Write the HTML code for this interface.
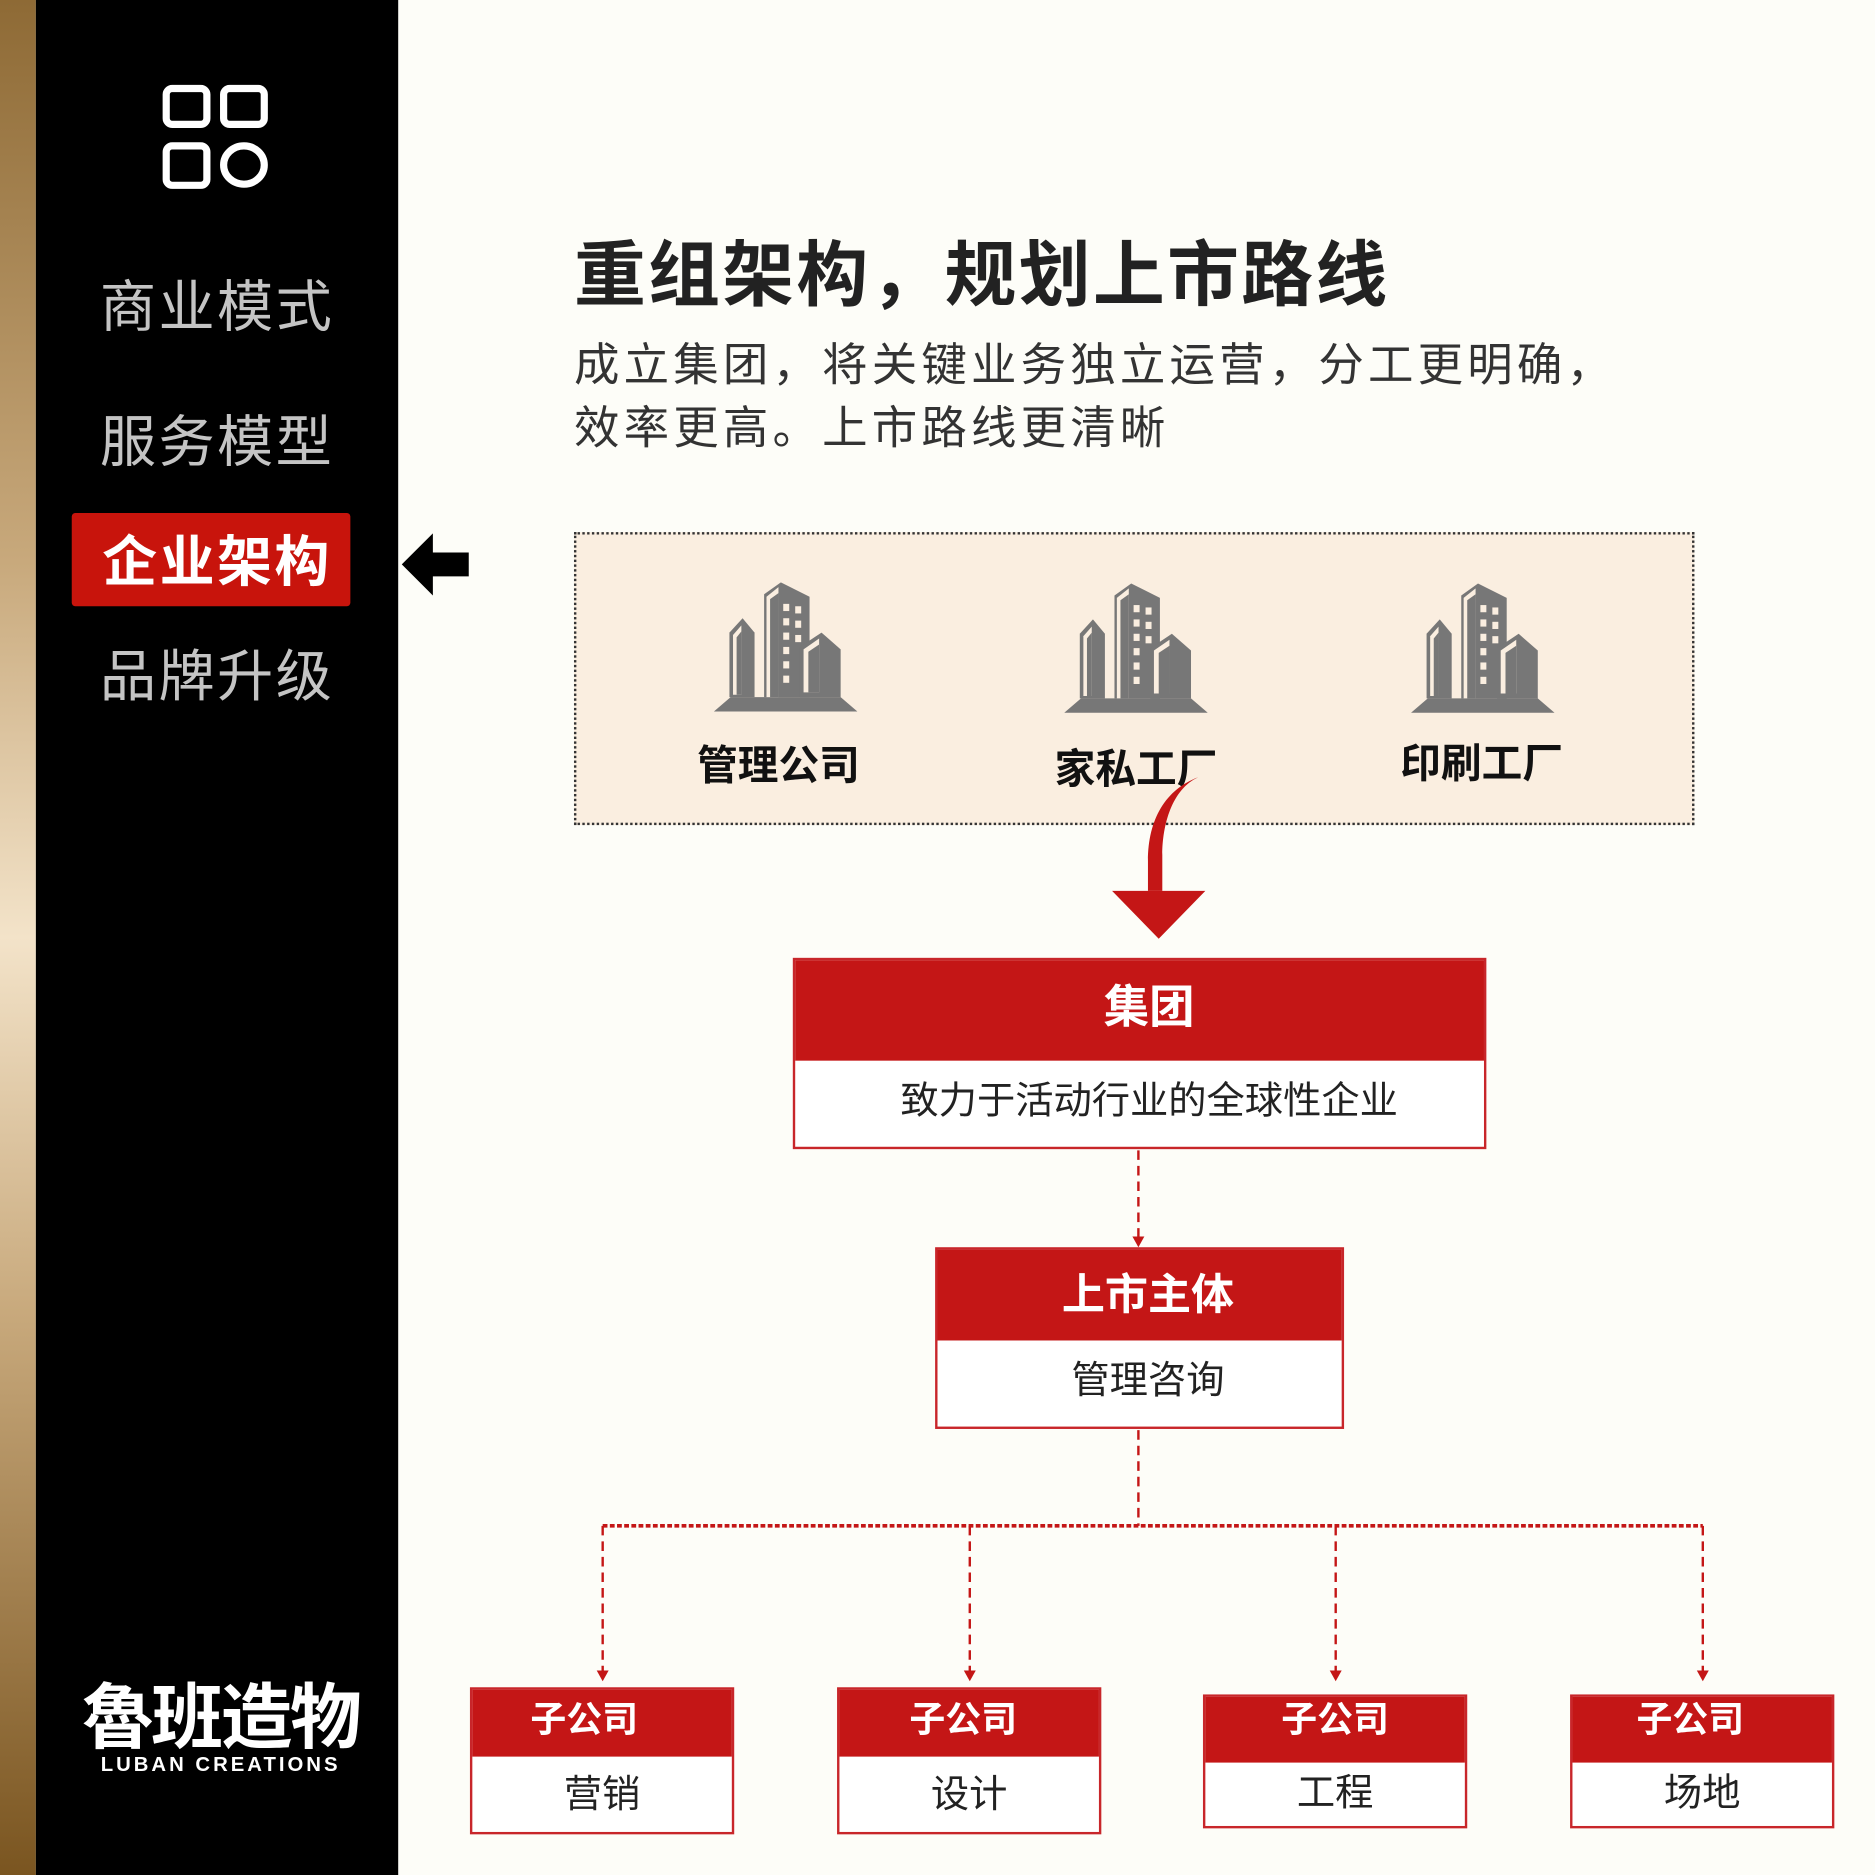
<!DOCTYPE html>
<html><head><meta charset="utf-8"><style>
html,body{margin:0;padding:0;}
body{width:1875px;height:1875px;overflow:hidden;background:#fdfdf8;}
#w{position:absolute;left:0;top:0;width:1568px;height:1568px;transform:scale(1.19579);transform-origin:0 0;font-family:"Liberation Sans","Noto Sans CJK SC",sans-serif;}
.a{position:absolute;}
.menu{position:absolute;left:30px;width:303px;text-align:center;color:#c4c4c4;font-size:47px;letter-spacing:2px;}
.box{position:absolute;border:2px solid #c8262a;background:#fff;box-sizing:border-box;}
.hd{background:#c41616;color:#fff;font-weight:bold;text-align:center;}
.bd{text-align:center;color:#222;}
.bl{text-align:center;font-weight:bold;font-size:34px;color:#111;position:absolute;width:200px;}
</style></head><body><div id="w">
<div class="a" style="left:0;top:0;width:30px;height:1568px;background:linear-gradient(#8e6a35 0%,#c8a97c 30%,#f3e3c9 50%,#c8a97c 70%,#7a5520 100%);"></div>
<div class="a" style="left:30px;top:0;width:303px;height:1568px;background:#000;"></div>
<svg class="a" style="left:130px;top:65px" width="100" height="100" viewBox="0 0 100 100">
<g fill="none" stroke="#fff" stroke-width="6">
<rect x="9" y="9" width="34" height="30" rx="5"/><rect x="57" y="9" width="34" height="30" rx="5"/>
<rect x="9" y="57" width="34" height="33" rx="5"/><ellipse cx="74" cy="73" rx="17" ry="16"/></g></svg>
<div class="menu" style="top:218px;">商业模式</div>
<div class="menu" style="top:331px;">服务模型</div>
<div class="a" style="left:60px;top:429px;width:233px;height:78px;background:#c8140c;border-radius:3px;"></div>
<div class="menu" style="top:434px;color:#fff;font-weight:bold;font-size:46px;">企业架构</div>
<div class="menu" style="top:527px;">品牌升级</div>
<svg class="a" style="left:334px;top:444px" width="60" height="56"><polygon points="2,28 28,2 28,18 58,18 58,38 28,38 28,54" fill="#000"/></svg>
<div class="a" style="left:62px;top:1402px;width:245px;text-align:center;color:#fff;font-weight:bold;font-size:60px;letter-spacing:-2px;line-height:70px;">魯班造物</div>
<div class="a" style="left:62px;top:1466px;width:245px;text-align:center;color:#fff;font-weight:bold;font-size:17px;letter-spacing:2.5px;">LUBAN CREATIONS</div>

<div class="a" style="left:480px;top:182px;font-size:60px;font-weight:bold;color:#222;letter-spacing:2px;">重组架构，规划上市路线</div>
<div class="a" style="left:480px;top:280px;font-size:38px;color:#333;line-height:53px;letter-spacing:3.5px;">成立集团，将关键业务独立运营，分工更明确，<br>效率更高。上市路线更清晰</div>

<div class="a" style="left:480px;top:445px;width:937px;height:245px;background:#faeee0;border:2px dotted #333;box-sizing:border-box;"></div>
<svg width="0" height="0" style="position:absolute"><defs><g id="bld">
<polygon points="0,108 120,108 106,96 14,96" fill="#777"/>
<polygon points="42,10 56,0 80,12 80,96 42,96" fill="#777"/>
<polygon points="44,12 54,4 54,96 44,96" fill="#faeee0"/><polygon points="47,14 54,9 54,96 47,96" fill="#777"/>
<g fill="#faeee0"><rect x="58" y="18" width="5" height="6"/><rect x="68" y="20" width="5" height="6"/><rect x="58" y="30" width="5" height="6"/><rect x="68" y="32" width="5" height="6"/><rect x="58" y="42" width="5" height="6"/><rect x="68" y="44" width="5" height="6"/><rect x="58" y="54" width="5" height="6"/><rect x="58" y="66" width="5" height="6"/><rect x="58" y="78" width="5" height="6"/></g>
<polygon points="13,42 24,30 34,42 34,96 13,96" fill="#777"/><polygon points="16,44 23,36 23,94 16,94" fill="#faeee0"/><polygon points="19,46 23,41 23,94 19,94" fill="#777"/>
<polygon points="72,54 90,42 106,56 106,96 72,96" fill="#777"/><polygon points="75,56 88,47 88,92 75,92" fill="#faeee0"/><polygon points="79,58 88,52 88,92 79,92" fill="#777"/>
</g></defs></svg>
<svg class="a" style="left:597px;top:487px" width="120" height="110"><use href="#bld"/></svg>
<svg class="a" style="left:890px;top:488px" width="120" height="110"><use href="#bld"/></svg>
<svg class="a" style="left:1180px;top:488px" width="120" height="110"><use href="#bld"/></svg>
<div class="bl" style="left:551px;top:613px;">管理公司</div>
<div class="bl" style="left:850px;top:616px;">家私工厂</div>
<div class="bl" style="left:1139px;top:611px;">印刷工厂</div>
<svg class="a" style="left:920px;top:645px" width="100" height="145">
<path d="M82,5 C60,15 52,45 52,70 L52,100 L40,100 L40,75 C40,40 55,15 82,5 Z" fill="#c41616"/>
<polygon points="10,100 88,100 49,140" fill="#c41616"/></svg>

<div class="box" style="left:663px;top:801px;width:580px;height:160px;">
<div class="hd" style="height:84px;line-height:80px;font-size:38px;padding-left:16px;">集团</div>
<div class="bd" style="font-size:32px;line-height:66px;padding-left:16px;">致力于活动行业的全球性企业</div></div>
<div class="box" style="left:782px;top:1043px;width:342px;height:152px;">
<div class="hd" style="height:76px;line-height:76px;font-size:36px;padding-left:14px;">上市主体</div>
<div class="bd" style="font-size:32px;line-height:66px;padding-left:14px;">管理咨询</div></div>

<svg class="a" style="left:0;top:0" width="1568" height="1568">
<g stroke="#c41616" stroke-width="2" fill="none" stroke-dasharray="8,5">
<line x1="952" y1="962" x2="952" y2="1036"/>
<line x1="952" y1="1196" x2="952" y2="1276"/>
<line x1="504" y1="1276" x2="1424" y2="1276" stroke-width="3" stroke-dasharray="4,2"/>
<line x1="504" y1="1276" x2="504" y2="1398"/><line x1="811" y1="1276" x2="811" y2="1398"/>
<line x1="1117" y1="1276" x2="1117" y2="1398"/><line x1="1424" y1="1276" x2="1424" y2="1398"/></g>
<g fill="#c41616"><polygon points="947,1034 957,1034 952,1043"/>
<polygon points="499,1397 509,1397 504,1406"/><polygon points="806,1397 816,1397 811,1406"/>
<polygon points="1112,1397 1122,1397 1117,1406"/><polygon points="1419,1397 1429,1397 1424,1406"/></g></svg>

<div class="box" style="left:393px;top:1411px;width:221px;height:123px;"><div class="hd" style="height:56px;line-height:52px;font-size:30px;padding-right:30px;">子公司</div><div class="bd" style="font-size:32px;line-height:62px;">营销</div></div>
<div class="box" style="left:700px;top:1411px;width:221px;height:123px;"><div class="hd" style="height:56px;line-height:52px;font-size:30px;padding-right:10px;">子公司</div><div class="bd" style="font-size:32px;line-height:62px;">设计</div></div>
<div class="box" style="left:1006px;top:1417px;width:221px;height:112px;"><div class="hd" style="height:55px;line-height:40px;font-size:30px;">子公司</div><div class="bd" style="font-size:32px;line-height:50px;">工程</div></div>
<div class="box" style="left:1313px;top:1417px;width:221px;height:112px;"><div class="hd" style="height:55px;line-height:40px;font-size:30px;padding-right:20px;">子公司</div><div class="bd" style="font-size:32px;line-height:50px;">场地</div></div>
</div></body></html>
